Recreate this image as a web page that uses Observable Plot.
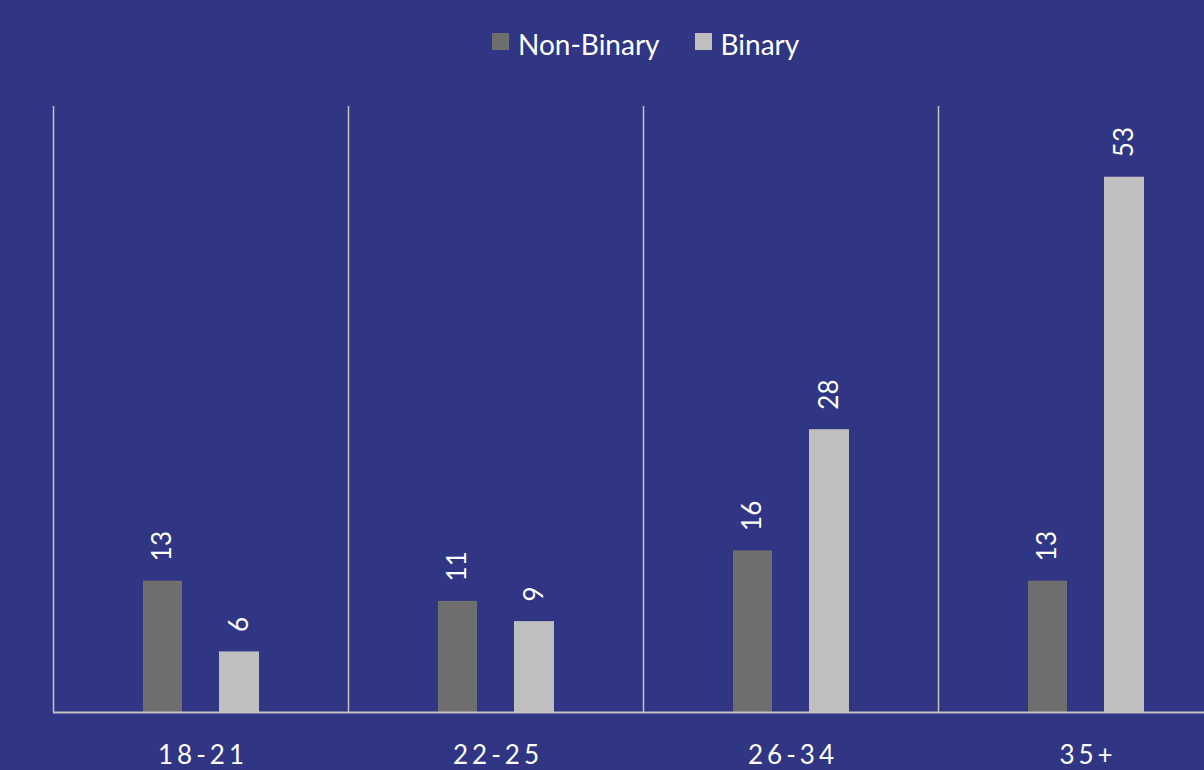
<!DOCTYPE html>
<html>
<head>
<meta charset="utf-8">
<script src="https://cdn.jsdelivr.net/npm/d3@7"></script>
<script src="https://cdn.jsdelivr.net/npm/@observablehq/plot@0.6"></script>
<style>
  html, body { margin: 0; padding: 0; background: #303584; width: 1204px; height: 770px; overflow: hidden; font-family: Lato, "Noto Sans", sans-serif; }
  #legend { position: absolute; left: 492px; top: 26px; display: flex; align-items: center; color: #ffffff; font-size: 28px; line-height: 36px; }
  .item { display: flex; align-items: center; margin-right: 35px; }
  .sw { width: 17px; height: 17px; margin-right: 9px; position: relative; top: -3px; }
  #chart { position: absolute; left: 0; top: 80px; }
  svg { overflow: hidden; }
  #chart g[aria-label="x-axis tick label"] text { letter-spacing: 4px; }
</style>
</head>
<body>
<div id="legend"></div>
<div id="chart"></div>
<script>
const categories = ["18-21", "22-25", "26-34", "35+"];
const nonBinary = [13, 11, 16, 13];
const binary = [6, 9, 28, 53];
const seriesNames = ["Non-Binary", "Binary"];
const seriesColors = ["#6f6f6f", "#bfbfbf"];

const nbData = categories.map((c, i) => ({age: c, value: nonBinary[i]}));
const bData = categories.map((c, i) => ({age: c, value: binary[i]}));

// legend
const legend = document.getElementById("legend");
seriesNames.forEach((name, i) => {
  const item = document.createElement("div");
  item.className = "item";
  const sw = document.createElement("span");
  sw.className = "sw";
  sw.style.background = seriesColors[i];
  const t = document.createElement("span");
  t.textContent = name;
  item.appendChild(sw);
  item.appendChild(t);
  legend.appendChild(item);
});

const step = (1233 - 53) / categories.length;

const chart = Plot.plot({
  width: 1204,
  height: 690,
  marginLeft: 53,
  marginRight: 0,
  marginTop: 26,
  marginBottom: 58,
  style: {background: "transparent", color: "#ffffff", fontFamily: "Lato, 'Noto Sans', sans-serif", overflow: "hidden"},
  x: {domain: categories, range: [53, 1233], padding: 0, label: null},
  y: {domain: [0, 60], axis: null},
  marks: [
    Plot.ruleX(categories, {x: d => d, y1: 0, y2: 60, dx: -step / 2, stroke: "#c4c4c4", strokeWidth: 1.5}),
    Plot.barY(nbData, {x: "age", y: "value", fill: seriesColors[0], insetLeft: 90, insetRight: 166}),
    Plot.barY(bData, {x: "age", y: "value", fill: seriesColors[1], insetLeft: 166, insetRight: 89}),
    Plot.ruleY([0], {stroke: "#c4c4c4", strokeWidth: 2}),
    Plot.text(nbData, {x: "age", y: "value", text: d => String(d.value), rotate: -90, textAnchor: "start", dy: -20, dx: -38, fill: "#ffffff", fontSize: 26}),
    Plot.text(bData, {x: "age", y: "value", text: d => String(d.value), rotate: -90, textAnchor: "start", dy: -20, dx: 38.5, fill: "#ffffff", fontSize: 26}),
    Plot.axisX({tickSize: 0, tickPadding: 33, fontSize: 26, fill: "#ffffff", label: null, dx: 2})
  ]
});
document.getElementById("chart").appendChild(chart);
</script>
</body>
</html>
